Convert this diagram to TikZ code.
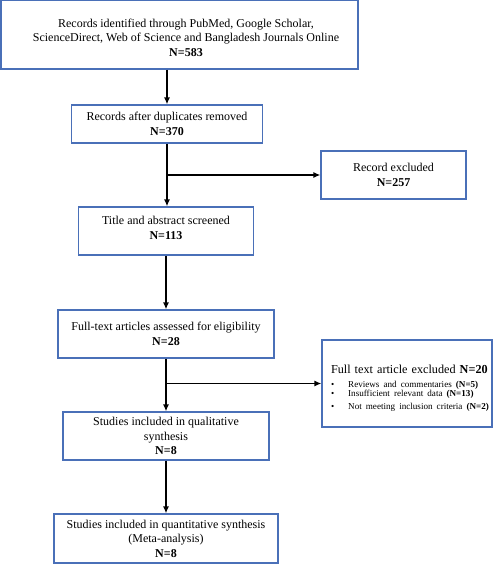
\documentclass[tikz,border=0pt]{standalone}
\usepackage{fontspec}
\setmainfont{Liberation Serif}
\usepackage{tikz}
\usetikzlibrary{arrows.meta}
\definecolor{boxblue}{HTML}{4A70B8}
\tikzstyle{stage}=[draw=boxblue, line width=1.1pt, inner sep=0pt, align=center, font=\fontsize{12}{14.5}\selectfont]
\tikzstyle{excl}=[stage, align=left, font=\fontsize{12.2}{14}\selectfont]
\tikzstyle{flow}=[line width=1.7pt, -{Latex[length=7pt,width=6pt]}]
\newcommand{\smallitem}[1]{\mbox{\textbullet\hspace{14pt}#1}}

\begin{document}
\begin{tikzpicture}[x=1pt, y=-1pt]
    \useasboundingbox (0,0) rectangle (500,565);
    \node[stage, minimum width=357pt, minimum height=69pt] (ident) at (179.5, 34.5)
        {\rule{0pt}{15pt}\hspace*{13pt}Records identified through PubMed, Google Scholar,\\
         \hspace*{13pt}ScienceDirect, Web of Science and Bangladesh Journals Online\\
         \hspace*{13pt}\textbf{N=583}};
    \node[stage, minimum width=191pt, minimum height=38pt] (dedup) at (167, 124)
        {Records after duplicates removed\\ \textbf{N=370}};
    \node[stage, minimum width=145pt, minimum height=48pt] (recx) at (393.5, 175)
        {Record excluded\\ \textbf{N=257}};
    \node[stage, minimum width=175pt, minimum height=48pt] (screen) at (166, 231)
        {Title and abstract screened\\ \textbf{N=113}\rule[-6pt]{0pt}{6pt}};
    \node[stage, minimum width=216pt, minimum height=48pt] (elig) at (166, 334)
        {Full-text articles assessed for eligibility\\ \textbf{N=28}};
    \node[excl, text width=152pt, minimum height=87pt, inner xsep=9pt] (fullx) at (407, 383.5)
        {\rule{0pt}{18pt}\mbox{Full text article excluded \textbf{N=20}}\\[3pt]
         \fontsize{9.1}{10.5}\selectfont
         \smallitem{Reviews and commentaries \textbf{(N=5)}}\\[-1pt]
         \smallitem{Insufficient relevant data \textbf{(N=13)}}\\[-1pt]
         \smallitem{Not meeting inclusion criteria \textbf{(N=2)}}};
    \node[stage, minimum width=206pt, minimum height=48pt] (qual) at (166, 436)
        {Studies included in qualitative\\ synthesis\\ \textbf{N=8}};
    \node[stage, minimum width=224pt, minimum height=49pt] (quant) at (166, 538.5)
        {Studies included in quantitative synthesis\\ (Meta-analysis)\\ \textbf{N=8}};
    \coordinate (j1) at (dedup.south |- recx.west);
    \coordinate (j2) at (elig.south |- fullx.west);
    \draw[flow] (dedup.north |- ident.south) -- (dedup.north);
    \draw[flow] (dedup.south) -- (screen.north -| dedup.south);
    \draw[flow] (j1) -- (recx.west);
    \draw[flow] (screen) -- (elig);
    \draw[flow] (elig.south) -- (qual.north);
    \draw[flow] (j2) -- (fullx.west);
    \draw[flow] (qual) -- (quant);
\end{tikzpicture}
\end{document}
